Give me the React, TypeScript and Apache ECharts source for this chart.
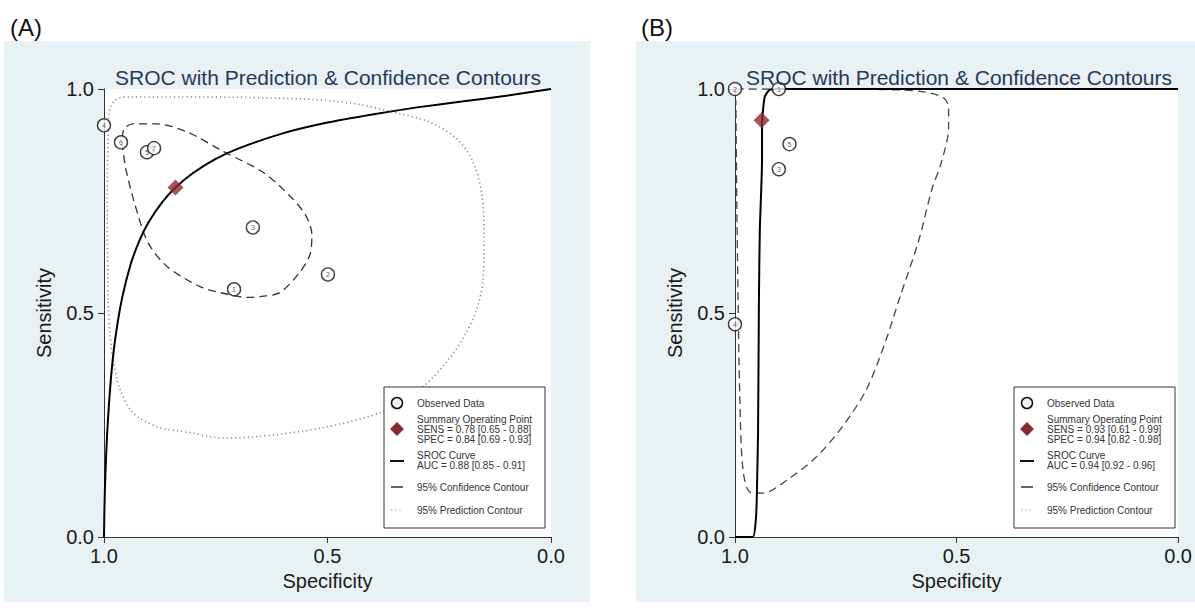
import React, { useEffect, useRef } from 'react';
import * as echarts from 'echarts';

// ---------- Data (Specificity, Sensitivity) ----------
const axisTicks = [0, 0.5, 1];

// Panel A
const studyLabelsA = ['1', '2', '3', '4', '5', '6', '7'];
const studySpecA = [0.709, 0.499, 0.667, 1.0, 0.904, 0.962, 0.888];
const studySensA = [0.553, 0.586, 0.691, 0.919, 0.859, 0.881, 0.868];
const summaryA = [0.84, 0.78];
const srocSpecA = [1.0, 0.999, 0.997, 0.993, 0.985, 0.975, 0.96, 0.94, 0.92, 0.9, 0.87, 0.84, 0.8, 0.75, 0.7, 0.6, 0.5, 0.4, 0.3, 0.2, 0.1, 0.0];
const srocSensA = [0.0, 0.065, 0.137, 0.23, 0.348, 0.441, 0.531, 0.61, 0.663, 0.703, 0.747, 0.78, 0.813, 0.844, 0.867, 0.901, 0.925, 0.943, 0.959, 0.972, 0.985, 1.0];
const confSpecA = [0.96, 0.951, 0.931, 0.902, 0.859, 0.785, 0.72, 0.68, 0.647, 0.606, 0.562, 0.539, 0.535, 0.55, 0.584, 0.644, 0.734, 0.814, 0.881, 0.935, 0.955, 0.96];
const confSensA = [0.881, 0.821, 0.743, 0.658, 0.604, 0.559, 0.541, 0.535, 0.537, 0.546, 0.591, 0.631, 0.676, 0.72, 0.761, 0.814, 0.861, 0.904, 0.922, 0.922, 0.911, 0.881];
const predSpecA = [0.991, 0.993, 0.991, 0.987, 0.971, 0.942, 0.785, 0.562, 0.45, 0.365, 0.271, 0.21, 0.174, 0.154, 0.15, 0.152, 0.166, 0.192, 0.226, 0.286, 0.376, 0.51, 0.658, 0.734, 0.808, 0.881, 0.935, 0.964, 0.98, 0.987, 0.991];
const predSensA = [0.53, 0.754, 0.888, 0.955, 0.978, 0.982, 0.982, 0.978, 0.969, 0.951, 0.926, 0.888, 0.837, 0.761, 0.664, 0.575, 0.508, 0.452, 0.4, 0.336, 0.28, 0.244, 0.224, 0.221, 0.233, 0.246, 0.277, 0.329, 0.396, 0.456, 0.53];
const legendA = ['SENS = 0.78 [0.65 - 0.88]', 'SPEC = 0.84 [0.69 - 0.93]', 'AUC = 0.88 [0.85 - 0.91]'];

// Panel B
const studyLabelsB = ['1', '2', '3', '4', '5'];
const studySpecB = [0.901, 1.0, 0.901, 1.0, 0.877];
const studySensB = [1.0, 1.0, 0.821, 0.475, 0.877];
const summaryB = [0.94, 0.93];
const srocSpecB = [1.0, 0.96, 0.953, 0.951, 0.948, 0.946, 0.944, 0.939, 0.939, 0.933, 0.922, 0.899, 0.0];
const srocSensB = [0.0, 0.0, 0.038, 0.083, 0.232, 0.529, 0.685, 0.842, 0.92, 0.982, 0.998, 1.0, 1.0];
const confSpecB = [0.998, 0.854, 0.63, 0.57, 0.529, 0.518, 0.518, 0.534, 0.556, 0.585, 0.63, 0.659, 0.704, 0.758, 0.816, 0.883, 0.937, 0.966, 0.982, 0.989, 0.993, 0.996, 0.998];
const confSensB = [1.0, 1.0, 0.998, 0.993, 0.98, 0.958, 0.913, 0.837, 0.775, 0.663, 0.529, 0.44, 0.328, 0.246, 0.179, 0.127, 0.098, 0.1, 0.15, 0.306, 0.529, 0.752, 0.975];
const legendB = ['SENS = 0.93 [0.61 - 0.99]', 'SPEC = 0.94 [0.82 - 0.98]', 'AUC = 0.94 [0.92 - 0.96]'];

const titleText = 'SROC with Prediction & Confidence Contours';
const FONT = 'Liberation Sans, Arial, sans-serif';
const BG = '#e8f1f3';
const RED = '#8e2b2e';

const zip = (a: number[], b: number[]) => a.map((v, i) => [v, b[i]]);

function legendGraphic(x: number, y: number, w: number, h: number, lines: string[]) {
  const txt = (tx: number, ty: number, s: string) => ({
    type: 'text', x: tx, y: ty, z: 101,
    style: { text: s, fontSize: 10, fontFamily: FONT, fill: '#333', verticalAlign: 'middle', align: 'left' },
  });
  const sx = x + 13;
  const tx = x + 33;
  return [
    { type: 'rect', z: 100, shape: { x, y, width: w, height: h }, style: { fill: '#fff', stroke: '#333', lineWidth: 1 } },
    { type: 'circle', z: 101, shape: { cx: sx, cy: y + 16, r: 5.5 }, style: { fill: '#f2f2f2', stroke: '#111', lineWidth: 1.5 } },
    txt(tx, y + 16, 'Observed Data'),
    { type: 'polygon', z: 101, shape: { points: [[sx, y + 35], [sx + 7, y + 42], [sx, y + 49], [sx - 7, y + 42]] }, style: { fill: RED } },
    txt(tx, y + 32.5, 'Summary Operating Point'),
    txt(tx, y + 42.5, lines[0]),
    txt(tx, y + 52.5, lines[1]),
    { type: 'line', z: 101, shape: { x1: sx - 7, y1: y + 74, x2: sx + 7, y2: y + 74 }, style: { stroke: '#111', lineWidth: 2 } },
    txt(tx, y + 68.5, 'SROC Curve'),
    txt(tx, y + 78.5, lines[2]),
    { type: 'line', z: 101, shape: { x1: sx - 6, y1: y + 100, x2: sx + 6, y2: y + 100 }, style: { stroke: '#333', lineWidth: 1.5 } },
    txt(tx, y + 100, '95% Confidence Contour'),
    { type: 'line', z: 101, shape: { x1: sx - 6, y1: y + 123, x2: sx + 6, y2: y + 123 }, style: { stroke: '#999', lineWidth: 1.2, lineDash: [1.2, 3] } },
    txt(tx, y + 123, '95% Prediction Contour'),
  ];
}

function makeAxes(idx: number) {
  const xAxis = {
    type: 'value', gridIndex: idx, min: 0, max: 1, interval: 0.5, inverse: true,
    name: 'Specificity', nameLocation: 'middle', nameGap: 34,
    nameTextStyle: { fontSize: 20, fontFamily: FONT, color: '#1a1a1a' },
    axisLine: { show: true, onZero: false, lineStyle: { color: '#333', width: 1 } },
    axisTick: { show: true, length: 6, lineStyle: { color: '#333' } },
    axisLabel: { fontSize: 20, fontFamily: FONT, color: '#1a1a1a', margin: 9, formatter: (v: number) => v.toFixed(1) },
    splitLine: { show: false },
  };
  const yAxis = {
    type: 'value', gridIndex: idx, min: 0, max: 1, interval: 0.5, position: 'left',
    name: 'Sensitivity', nameLocation: 'middle', nameGap: 50,
    nameTextStyle: { fontSize: 20, fontFamily: FONT, color: '#1a1a1a' },
    axisLine: { show: true, onZero: false, lineStyle: { color: '#333', width: 1 } },
    axisTick: { show: true, length: 6, lineStyle: { color: '#333' } },
    axisLabel: { fontSize: 20, fontFamily: FONT, color: '#1a1a1a', margin: 10, formatter: (v: number) => v.toFixed(1) },
    splitLine: { show: false },
  };
  return { xAxis, yAxis };
}

function studySeries(idx: number, specs: number[], sens: number[], labels: string[]) {
  return {
    type: 'scatter', xAxisIndex: idx, yAxisIndex: idx, z: 5,
    symbol: 'circle', symbolSize: 13,
    itemStyle: { color: '#fff', borderColor: '#111', borderWidth: 1.4 },
    label: { show: true, position: 'inside', fontSize: 7, fontFamily: FONT, color: '#333', formatter: (p: any) => labels[p.dataIndex] },
    data: zip(specs, sens),
  };
}

function lineSeries(idx: number, specs: number[], sens: number[], style: any, smooth: number) {
  return {
    type: 'line', xAxisIndex: idx, yAxisIndex: idx, showSymbol: false, symbol: 'none', smooth,
    lineStyle: style, data: zip(specs, sens), z: 3, silent: true,
  };
}

export default function App() {
  const ref = useRef<HTMLDivElement>(null);
  useEffect(() => {
    document.body.style.margin = '0';
    if (!ref.current) return;
    const chart = echarts.init(ref.current, undefined, { renderer: 'svg' });
    const a = makeAxes(0);
    const b = makeAxes(1);
    const option: any = {
      animation: false,
      backgroundColor: '#fff',
      title: [
        { text: titleText, left: 323, top: 62, textAlign: 'center', textStyle: { fontSize: 21, fontWeight: 'normal', fontFamily: FONT, color: '#26395c' } },
        { text: titleText, left: 954, top: 62, textAlign: 'center', textStyle: { fontSize: 21, fontWeight: 'normal', fontFamily: FONT, color: '#26395c' } },
      ],
      grid: [
        { left: 104, top: 89, width: 447, height: 448, show: true, backgroundColor: '#fff', borderWidth: 0 },
        { left: 735, top: 89, width: 446, height: 448, show: true, backgroundColor: '#fff', borderWidth: 0 },
      ],
      xAxis: [a.xAxis, b.xAxis],
      yAxis: [a.yAxis, b.yAxis],
      graphic: [
        { type: 'rect', z: -10, shape: { x: 4, y: 41, width: 586, height: 561 }, style: { fill: BG } },
        { type: 'rect', z: -10, shape: { x: 636, y: 41, width: 559, height: 561 }, style: { fill: BG } },
        { type: 'text', x: 10, y: 27, style: { text: '(A)', fontSize: 24, fontFamily: FONT, fill: '#111', verticalAlign: 'middle' } },
        { type: 'text', x: 641, y: 27, style: { text: '(B)', fontSize: 24, fontFamily: FONT, fill: '#111', verticalAlign: 'middle' } },
        ...legendGraphic(384, 387, 161, 141, legendA),
        ...legendGraphic(1014, 387, 161, 141, legendB),
      ],
      series: [
        lineSeries(0, predSpecA, predSensA, { color: '#8a8a8a', width: 1.6, type: [1.2, 3] }, 0.3),
        lineSeries(0, confSpecA, confSensA, { color: '#333', width: 1.3, type: [8, 5] }, 0.3),
        lineSeries(0, srocSpecA, srocSensA, { color: '#000', width: 2 }, 0.2),
        studySeries(0, studySpecA, studySensA, studyLabelsA),
        {
          type: 'scatter', xAxisIndex: 0, yAxisIndex: 0, z: 6, symbol: 'diamond', symbolSize: [16, 16],
          itemStyle: { color: RED }, data: [summaryA],
        },
        lineSeries(1, confSpecB, confSensB, { color: '#444', width: 1.3, type: [8, 5] }, 0.3),
        lineSeries(1, srocSpecB, srocSensB, { color: '#000', width: 2 }, 0.2),
        studySeries(1, studySpecB, studySensB, studyLabelsB),
        {
          type: 'scatter', xAxisIndex: 1, yAxisIndex: 1, z: 6, symbol: 'diamond', symbolSize: [16, 16],
          itemStyle: { color: RED }, data: [summaryB],
        },
      ],
    };
    chart.setOption(option);
    return () => chart.dispose();
  }, []);
  return <div ref={ref} style={{ width: 1195, height: 608 }} />;
}
